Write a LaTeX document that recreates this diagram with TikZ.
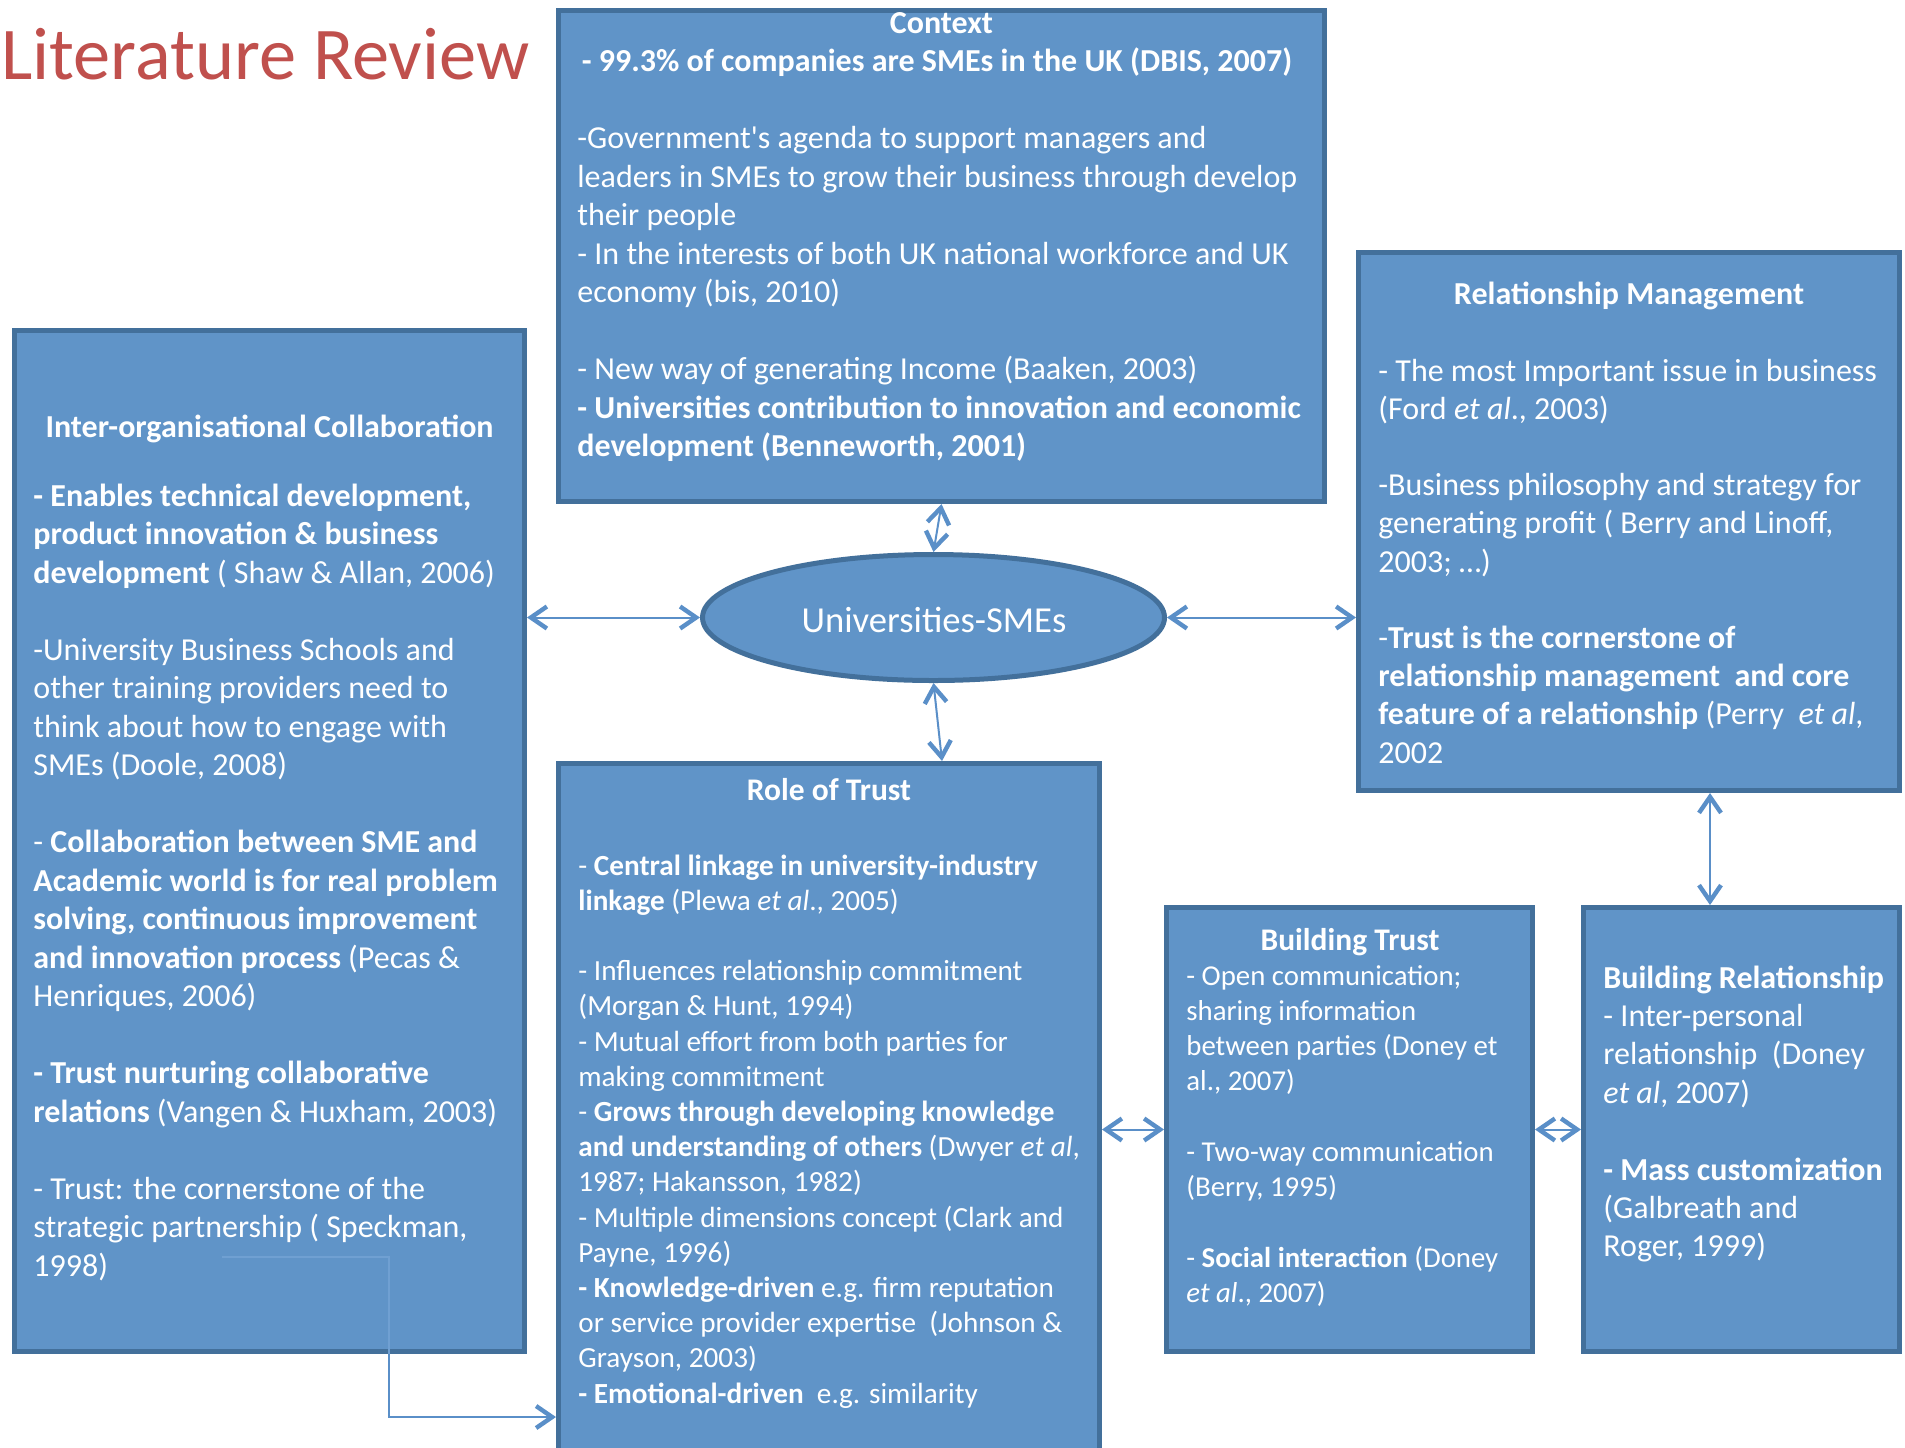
\documentclass[tikz,border=0pt]{standalone}
\usepackage{fontspec}
\setmainfont{Carlito}
\usetikzlibrary{arrows.meta,shapes.geometric}
\definecolor{boxfill}{RGB}{96,148,200}
\definecolor{boxline}{RGB}{67,112,155}
\definecolor{arrowc}{RGB}{90,143,200}
\definecolor{faintc}{RGB}{112,160,210}
\definecolor{titlered}{RGB}{192,80,77}
\newdimen\pxl \pxl=0.5pt
\newcommand\boxtext[2]{\parbox[t]{900\pxl}{#1\raggedright #2}}
\tikzset{
  box/.style={draw=boxline, fill=boxfill, line width=2.5pt, inner sep=0pt, anchor=north west},
  txt/.style={text=white, inner sep=0pt, anchor=base west},
  head/.style={text=white, inner sep=0pt, anchor=base, font=\bfseries\fontsize{16pt}{19.25pt}\selectfont},
  headsm/.style={head, font=\bfseries\fontsize{15.75pt}{19pt}\selectfont},
  conn/.style={draw=arrowc, line width=1pt, <->},
  conn1/.style={draw=arrowc, line width=1pt, ->},
  faint/.style={draw=faintc, line width=0.8pt},
}
\begin{document}
\begin{tikzpicture}[x=0.5pt,y=-0.5pt, >={Straight Barb[length=8pt,width=11pt,line width=2.2pt]}]
\clip (0,0) rectangle (1905,1447);
\fill[white] (0,0) rectangle (1905,1447);

% title
\node[anchor=base west, inner sep=0pt, text=titlered, font=\fontsize{37.2pt}{42pt}\selectfont] (title) at (1,79) {Literature Review};

% boxes
\node[box, minimum width=383pt, minimum height=245.5pt] (ctx) at (556,8) {};
\node[box, minimum width=255pt, minimum height=510.5pt] (ioc) at (12,328) {};
\node[box, minimum width=270.5pt, minimum height=269pt] (rm) at (1356,250) {};
\node[box, minimum width=270.5pt, minimum height=367pt] (rot) at (556,761) {};
\node[box, minimum width=183pt, minimum height=222pt] (bt) at (1164,905) {};
\node[box, minimum width=158pt, minimum height=222pt] (br) at (1581,905) {};
\node[ellipse, draw=boxline, fill=boxfill, line width=2.5pt, minimum width=231pt, minimum height=63pt, inner sep=0pt] (ell) at (933.5,617.5) {};
\node[text=white, inner sep=0pt, anchor=base, font=\fontsize{18.3pt}{21pt}\selectfont] (elltext) at (934,632) {Universities-SMEs};

% connectors
\coordinate (cs) at (222,1257);
\coordinate (cturn) at (389,1417);
\draw[faint] (cs) -| (ioc.south -| cturn);
\draw[conn1] (ioc.south -| cturn) |- (cturn -| rot.west);
\draw[conn] (ctx.south) -- (ell.north);
\draw[conn] (ell.south) -- ([xshift=4.25pt]ell.south |- rot.north);
\draw[conn] (ell.west -| ioc.east) -- (ell.west);
\draw[conn] (ell.east) -- (ell.east -| rm.west);
\draw[conn] ([xshift=-15.75pt]br.north |- rm.south) -- ([xshift=-15.75pt]br.north);
\draw[conn] (bt.west -| rot.east) -- (bt.west);
\draw[conn] (bt.east) -- (br.west);

% Context
\node[head] (ctxh) at (941.5,33) {Context};
\node[head] (ctxb) at (937,71) {- 99.3\% of companies are SMEs in the UK (DBIS, 2007)};
\node[txt] (ctxt) at (577,148.5) {\boxtext{\fontsize{16pt}{19.25pt}\selectfont}{%
-Government\textquotesingle s agenda to support managers and\\
leaders in SMEs to grow their business through develop\\
their people\\
- In the interests of both UK national workforce and UK\\
economy (bis, 2010)\\[\baselineskip]
- New way of generating Income (Baaken, 2003)\\
\textbf{- Universities contribution to innovation and economic}\\
\textbf{development (Benneworth, 2001)}}};

% Inter-organisational Collaboration
\node[head] (ioch) at (269.5,437) {Inter-organisational Collaboration};
\node[txt] (ioct) at (33,506) {\boxtext{\fontsize{16pt}{19.25pt}\selectfont}{%
\textbf{- Enables technical development,}\\
\textbf{product innovation \& business}\\
\textbf{development} ( Shaw \& Allan, 2006)\\[\baselineskip]
-University Business Schools and\\
other training providers need to\\
think about how to engage with\\
SMEs (Doole, 2008)\\[\baselineskip]
- \textbf{Collaboration between SME and}\\
\textbf{Academic world is for real problem}\\
\textbf{solving, continuous improvement}\\
\textbf{and innovation process} (Pecas \&\\
Henriques, 2006)\\[\baselineskip]
\textbf{- Trust nurturing collaborative}\\
\textbf{relations} (Vangen \& Huxham, 2003)\\[\baselineskip]
- Trust: the cornerstone of the\\
strategic partnership ( Speckman,\\
1998)}};

% Relationship Management
\node[head] (rmh) at (1629,304) {Relationship Management};
\node[txt] (rmt) at (1378,381) {\boxtext{\fontsize{16pt}{19.1pt}\selectfont}{%
- The most Important issue in business\\
(Ford \textit{et al}., 2003)\\[\baselineskip]
-Business philosophy and strategy for\\
generating profit ( Berry and Linoff,\\
2003; …)\\[\baselineskip]
-\textbf{Trust is the cornerstone of}\\
\textbf{relationship management\ \ and core}\\
\textbf{feature of a relationship} (Perry\ \ \textit{et al},\\
2002}};

% Role of Trust
\node[headsm] (roth) at (829,800) {Role of Trust};
\node[txt] (rott) at (578,875) {\boxtext{\fontsize{14.6pt}{17.6pt}\selectfont}{%
- \textbf{Central linkage in university-industry}\\
\textbf{linkage} (Plewa \textit{et al}., 2005)\\[\baselineskip]
- Influences relationship commitment\\
(Morgan \& Hunt, 1994)\\
- Mutual effort from both parties for\\
making commitment\\
- \textbf{Grows through developing knowledge}\\
\textbf{and understanding of others} (Dwyer \textit{et al},\\
1987; Hakansson, 1982)\\
- Multiple dimensions concept (Clark and\\
Payne, 1996)\\
\textbf{- Knowledge-driven} e.g. firm reputation\\
or service provider expertise\ \ (Johnson \&\\
Grayson, 2003)\\
\textbf{- Emotional-driven}\ \ e.g. similarity}};

% Building Trust
\node[headsm] (bth) at (1350,950) {Building Trust};
\node[txt] (btt) at (1186,985) {\boxtext{\fontsize{14.4pt}{17.65pt}\selectfont}{%
- Open communication;\\
sharing information\\
between parties (Doney et\\
al., 2007)\\[\baselineskip]
- Two-way communication\\
(Berry, 1995)\\[\baselineskip]
- \textbf{Social interaction} (Doney\\
\textit{et al}., 2007)}};

% Building Relationship
\node[txt] (brt) at (1603,988) {\boxtext{\fontsize{16pt}{19.2pt}\selectfont}{%
\textbf{Building Relationship}\\
- Inter-personal\\
relationship\ \ (Doney\\
\textit{et al}, 2007)\\[\baselineskip]
\textbf{- Mass customization}\\
(Galbreath and\\
Roger, 1999)}};
\end{tikzpicture}
\end{document}
